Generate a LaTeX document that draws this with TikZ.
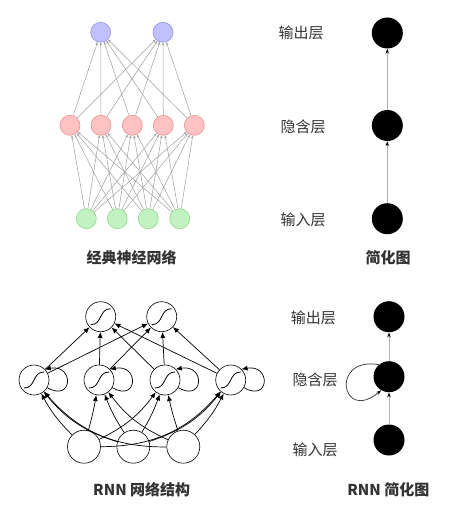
\documentclass[tikz,border=0pt]{standalone}
\usepackage{fontspec}
\newfontfamily\cjk{Noto Sans CJK SC}
\usetikzlibrary{arrows.meta}

\definecolor{outblue}{HTML}{C0C0FF}
\definecolor{outblueline}{HTML}{9494E6}
\definecolor{hidred}{HTML}{FFC2C2}
\definecolor{hidredline}{HTML}{E89494}
\definecolor{ingreen}{HTML}{C2F2C2}
\definecolor{ingreenline}{HTML}{8ED88E}
\definecolor{textgray}{HTML}{333333}

\tikzset{
  neuron/.style={circle, minimum size=20pt, inner sep=0pt, line width=0.6pt},
  thinarrow/.style={gray!75, line width=0.5pt, -{Stealth[length=3pt,width=2.5pt]}},
  blob/.style={circle, fill=black, minimum size=31pt, inner sep=0pt},
  chainarrow/.style={gray!60, line width=0.8pt, -{Stealth[length=5pt,width=3.5pt,black]}},
  rnnnode/.style={circle, draw, minimum size=30pt, inner sep=0pt, line width=0.6pt},
  sig/.style={rnnnode, path picture={
      \draw[line width=0.8pt] (-10pt,-8pt) .. controls (2pt,-8pt) and (-2pt,8pt) .. (10pt,8pt);}},
  rnnarrow/.style={black, line width=0.7pt, -{Latex[length=6pt,width=5pt]}},
  layer/.style={font=\cjk\fontsize{15}{18}\selectfont, text=textgray},
  caption/.style={font=\cjk\bfseries\fontsize{15}{18}\selectfont, text=textgray}
}

\begin{document}
\begin{tikzpicture}[x=1pt, y=-1pt]
    \useasboundingbox (0,0) rectangle (469,510);

    % classic network: nodes
    \foreach \i/\x in {1/100.7, 2/163} 
        \node[neuron, fill=outblue, draw=outblueline] (o\i) at (\x,32.3) {};
    \foreach \j/\x in {1/70, 2/101, 3/132.3, 4/163.3, 5/194.3} 
        \node[neuron, fill=hidred, draw=hidredline] (h\j) at (\x,125.3) {};
    \foreach \k/\x in {1/86.3, 2/117.3, 3/148.3, 4/179.7} 
        \node[neuron, fill=ingreen, draw=ingreenline] (i\k) at (\x,218.7) {};

    % classic network: connections
    \foreach \k in {1,...,4}
        \foreach \j in {1,...,5}
            \draw[thinarrow] (i\k) -- (h\j);
    \foreach \j in {1,...,5}
        \foreach \i in {1,2}
            \draw[thinarrow] (h\j) -- (o\i);

    \node[caption] (cap1) at (131.7,258) {经典神经网络};

    % simplified graph
    \node[blob] (so) at (387.3,33) {};
    \node[blob] (sh) at (387.3,125.5) {};
    \node[blob] (si) at (387.3,218.7) {};
    \draw[chainarrow] (si) -- (sh);
    \draw[chainarrow] (sh) -- (so);

    \node[layer] (lo) at (301,33) {输出层};
    \node[layer] (lh) at (303,126.7) {隐含层};
    \node[layer] (li) at (303,220) {输入层};
    \node[caption] (cap2) at (388,258) {简化图};

    % RNN: nodes
    \foreach \i/\x in {1/100.7, 2/161.7}
        \node[sig] (ro\i) at (\x,316.7) {};
    \foreach \j/\x in {1/34, 2/99, 3/165, 4/230.7}
        \node[sig] (rh\j) at (\x,380) {};
    \foreach \k/\x in {1/84, 2/133.3, 3/183.3}
        \node[rnnnode, minimum size=33pt] (ri\k) at (\x,446.7) {};

    % RNN: input to hidden, bent by distance
    \foreach \k/\xk in {1/84, 2/133.3, 3/183.3}
        \foreach \j/\xj in {1/34, 2/99, 3/165, 4/230.7} {
            \pgfmathsetmacro{\b}{(\xj-\xk)/6}
            \draw[rnnarrow] (ri\k) to[bend right=\b] (rh\j);
        }
    % RNN: hidden to output
    \foreach \j in {1,...,4}
        \foreach \i in {1,2}
            \draw[rnnarrow] (rh\j) -- (ro\i);
    % RNN: recurrent loops
    \foreach \j in {1,...,4}
        \draw[rnnarrow] (rh\j.-30) .. controls +(-30:30pt) and +(10:30pt) .. (rh\j.45);

    \node[caption] (cap3) at (141.7,490) {RNN 网络结构};

    % RNN simplified graph
    \node[blob] (rso) at (389,316.7) {};
    \node[blob] (rsh) at (389,376.7) {};
    \node[blob] (rsi) at (389,440) {};
    \draw[chainarrow] (rsi) -- (rsh);
    \draw[chainarrow] (rsh) -- (rso);
    \draw[gray!40!black, line width=0.7pt, -{Stealth[length=5pt,width=3.5pt,black]}]
        (rsh.130) .. controls +(170:50pt) and +(-140:52pt) .. (rsh.-120);

    \node[layer] (rlo) at (313.3,318.3) {输出层};
    \node[layer] (rlh) at (315,380) {隐含层};
    \node[layer] (rli) at (315,450) {输入层};
    \node[caption] (cap4) at (388.3,490) {RNN 简化图};
\end{tikzpicture}
\end{document}
